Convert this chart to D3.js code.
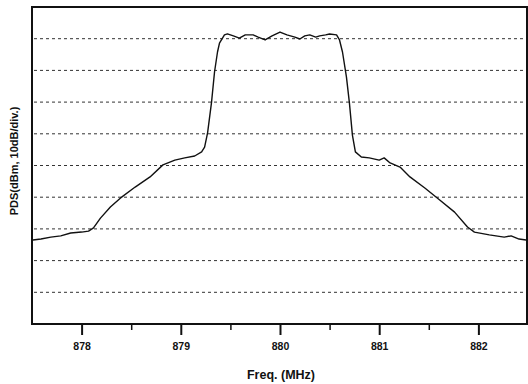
<!DOCTYPE html>
<html>
<head>
<meta charset="utf-8">
<script src="https://cdn.jsdelivr.net/npm/d3@7"></script>
<style>
  body { margin: 0; background: #fff; }
  svg { display: block; }
  text { font-family: "Liberation Sans", Arial, sans-serif; font-weight: bold; fill: #111; }
</style>
</head>
<body>
<div id="chart"></div>
<script>
// spectrum trace (MHz, dB relative)
var freq = [877.51, 877.59, 877.69, 877.79, 877.89, 878.00, 878.07, 878.12, 878.19, 878.29,
  878.39, 878.54, 878.69, 878.82, 878.94, 879.04, 879.14, 879.21, 879.24, 879.27,
  879.31, 879.34, 879.37, 879.39, 879.44, 879.47, 879.53, 879.59, 879.65, 879.73,
  879.78, 879.85, 879.92, 880.00, 880.07, 880.15, 880.20, 880.25, 880.30, 880.36,
  880.40, 880.46, 880.50, 880.57, 880.60, 880.63, 880.67, 880.70, 880.73, 880.76,
  880.82, 880.90, 881.00, 881.05, 881.11, 881.21, 881.31, 881.46, 881.61, 881.76,
  881.89, 881.96, 882.11, 882.26, 882.33, 882.41, 882.48];
var power = [-73.5, -73.2, -72.6, -72.2, -71.3, -71.0, -70.7, -69.7, -66.6, -63.1,
  -60.3, -56.8, -53.6, -49.8, -48.3, -47.6, -47.0, -45.7, -44.2, -39.7,
  -30.0, -20.5, -14.2, -11.4, -8.8, -8.5, -9.1, -9.8, -8.8, -8.8,
  -9.5, -10.4, -9.1, -7.9, -8.8, -9.5, -10.1, -9.1, -8.8, -9.5,
  -9.1, -8.8, -8.5, -8.8, -10.4, -14.2, -22.1, -30.3, -40.4, -45.7,
  -47.3, -47.6, -48.3, -47.6, -49.2, -50.5, -53.6, -57.1, -60.9, -64.7,
  -69.4, -71.0, -71.9, -72.6, -72.2, -73.2, -73.5];
var xTicks = [878, 879, 880, 881, 882];
var xMinorTicks = [878.5, 879.5, 880.5, 881.5];
var gridLevels = [-10, -20, -30, -40, -50, -60, -70, -80, -90];

var W = 528, H = 384;
var margin = { top: 7, right: 1, bottom: 60, left: 32 };
var width = W - margin.left - margin.right;
var height = H - margin.top - margin.bottom;

var svg = d3.select('#chart').append('svg')
  .attr('width', W)
  .attr('height', H);

var g = svg.append('g')
  .attr('transform', 'translate(' + margin.left + ',' + margin.top + ')');

var x = d3.scaleLinear().domain([877.5, 882.49]).range([0, width]);
var y = d3.scaleLinear().domain([-100, 0]).range([height, 0]);

// dashed grid
g.selectAll('line.grid')
  .data(gridLevels)
  .enter().append('line')
  .attr('class', 'grid')
  .attr('x1', 2).attr('x2', width - 2)
  .attr('y1', d => y(d)).attr('y2', d => y(d))
  .attr('stroke', '#333')
  .attr('stroke-width', 1)
  .attr('stroke-dasharray', '3,3');

// trace
var line = d3.line()
  .x((d, i) => x(freq[i]))
  .y(d => y(d));

g.append('path')
  .datum(power)
  .attr('d', line)
  .attr('fill', 'none')
  .attr('stroke', '#111')
  .attr('stroke-width', 1.4)
  .attr('stroke-linejoin', 'round');

// frame
g.append('rect')
  .attr('x', 0).attr('y', 0)
  .attr('width', width).attr('height', height)
  .attr('fill', 'none')
  .attr('stroke', '#111')
  .attr('stroke-width', 2);

// x axis
var xAxis = d3.axisBottom(x)
  .tickValues(xTicks)
  .tickSize(11)
  .tickPadding(8)
  .tickFormat(d3.format('d'));

var ax = g.append('g')
  .attr('transform', 'translate(0,' + height + ')')
  .call(xAxis);
ax.select('.domain').remove();
ax.selectAll('line').attr('stroke', '#111').attr('stroke-width', 2);
ax.selectAll('text').style('font-size', '10.5px').attr('fill', '#111');

var axMinor = g.append('g')
  .attr('transform', 'translate(0,' + height + ')')
  .call(d3.axisBottom(x).tickValues(xMinorTicks).tickSize(6).tickFormat(''));
axMinor.select('.domain').remove();
axMinor.selectAll('line').attr('stroke', '#111').attr('stroke-width', 1.5);

// axis titles
svg.append('text')
  .attr('x', 281).attr('y', 379)
  .attr('text-anchor', 'middle')
  .style('font-size', '12.5px')
  .text('Freq. (MHz)');

svg.append('text')
  .attr('transform', 'translate(18,161) rotate(-90)')
  .attr('text-anchor', 'middle')
  .style('font-size', '11px')
  .text('PDS(dBm, 10dB/div.)');
</script>
</body>
</html>
